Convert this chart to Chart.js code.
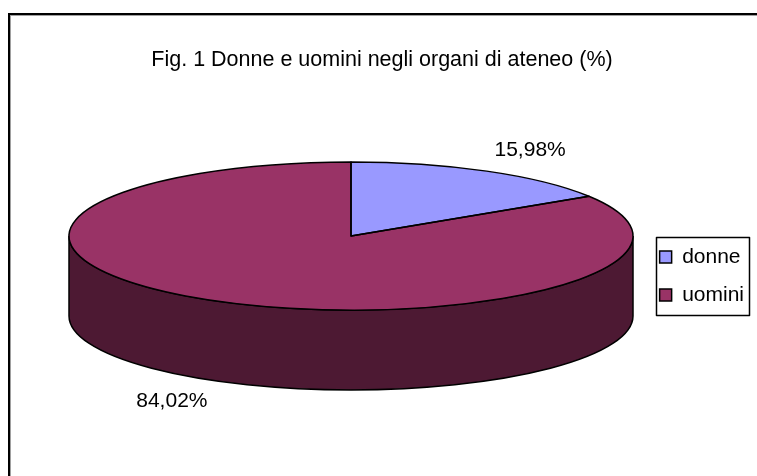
<!DOCTYPE html>
<html>
<head>
<meta charset="utf-8">
<title>Donne e uomini negli organi di ateneo</title>
<script src="https://cdn.jsdelivr.net/npm/chart.js@4/dist/chart.umd.min.js"></script>
<style>
  html, body { margin: 0; padding: 0; background: #fff; overflow: hidden; }
  #frame {
    position: absolute; left: 8px; top: 13px; width: 800px; height: 520px;
    border-left: 2px solid #000; border-top: 2px solid #000;
    box-shadow: inset 1px 1px 0 #a0a0a0;
  }
  #myCanvas { position: absolute; left: 0; top: 0; }
</style>
</head>
<body>
<div id="frame"></div>
<canvas id="myCanvas" width="757" height="476"></canvas>
<script>
const categories = ['donne', 'uomini']
const percentages = [15.98, 84.02]
const sliceColors = ['#9999ff', '#993366']
const sideColors = ['#4c4c80', '#4d1933']
const titleText = 'Fig. 1 Donne e uomini negli organi di ateneo (%)'

const fontFamily = '"Liberation Sans", Arial, sans-serif'

// how the flat pie gets laid down as a tilted disc
const pie3d = { cx: 351, cy: 236, rx: 282, ry: 74, depth: 80, labelDist: 1.32 }

// map the library's circle onto the ellipse
function project(ctx, arc) {
    ctx.translate(pie3d.cx, pie3d.cy)
    ctx.scale(pie3d.rx / arc.outerRadius, pie3d.ry / arc.outerRadius)
    ctx.translate(-arc.x, -arc.y)
}

// band between top edge and bottom edge of the disc, from a1 to a2
function rimPath(ctx, arc, a1, a2) {
    ctx.beginPath()
    ctx.save()
    ctx.translate(0, pie3d.depth)
    project(ctx, arc)
    ctx.arc(arc.x, arc.y, arc.outerRadius, a1, a2)
    ctx.restore()
    ctx.save()
    project(ctx, arc)
    ctx.arc(arc.x, arc.y, arc.outerRadius, a2, a1, true)
    ctx.restore()
    ctx.closePath()
}

const pie3dPlugin = {
    id: 'pie3d',
    beforeDatasetsDraw(chart) {
        const ctx = chart.ctx
        const arcs = chart.getDatasetMeta(0).data

        // only the front half of the side is visible
        arcs.forEach((arc, i) => {
            const a1 = Math.max(arc.startAngle, 0)
            const a2 = Math.min(arc.endAngle, Math.PI)
            if (a2 <= a1) return
            rimPath(ctx, arc, a1, a2)
            ctx.fillStyle = sideColors[i]
            ctx.fill()
            ctx.lineWidth = 1.5
            ctx.strokeStyle = '#000'
            ctx.stroke()
        })

        ctx.save()
        project(ctx, arcs[0])
    },
    afterDatasetsDraw(chart) {
        const ctx = chart.ctx
        ctx.restore()
        const arcs = chart.getDatasetMeta(0).data

        // outlines, stroked without the squash so lines stay even
        ctx.lineWidth = 1.5
        ctx.strokeStyle = '#000'
        ctx.lineJoin = 'round'
        arcs.forEach(arc => {
            ctx.beginPath()
            ctx.save()
            project(ctx, arc)
            ctx.moveTo(arc.x, arc.y)
            ctx.arc(arc.x, arc.y, arc.outerRadius, arc.startAngle, arc.endAngle)
            ctx.closePath()
            ctx.restore()
            ctx.stroke()
        })

        // percentage labels
        ctx.font = '21px ' + fontFamily
        ctx.fillStyle = '#000'
        ctx.textAlign = 'center'
        ctx.textBaseline = 'middle'
        arcs.forEach((arc, i) => {
            const mid = (arc.startAngle + arc.endAngle) / 2
            const x = pie3d.cx + pie3d.labelDist * pie3d.rx * Math.cos(mid)
            let y = pie3d.cy + pie3d.labelDist * pie3d.ry * Math.sin(mid)
            if (Math.sin(mid) > 0) y += pie3d.depth
            ctx.fillText(percentages[i].toFixed(2).replace('.', ',') + '%', x, y)
        })
    },
    afterDraw(chart) {
        // box round the legend
        const ctx = chart.ctx
        const boxes = chart.legend.legendHitBoxes
        if (!boxes || !boxes.length) return
        const left = Math.min(...boxes.map(b => b.left)) - 4
        const top = Math.min(...boxes.map(b => b.top)) - 10
        const right = Math.max(...boxes.map(b => b.left + b.width)) + 5
        const bottom = Math.max(...boxes.map(b => b.top + b.height)) + 9
        ctx.save()
        ctx.lineWidth = 1.5
        ctx.strokeStyle = '#000'
        ctx.strokeRect(Math.round(left) + 0.5, Math.round(top) + 0.5, Math.round(right - left), Math.round(bottom - top))
        ctx.restore()
    }
}

const myChart = document.getElementById('myCanvas').getContext('2d')
const defaultLabels = Chart.overrides.doughnut.plugins.legend.labels.generateLabels

let genderChart = new Chart(myChart, {
    type: 'pie',
    data: {
        labels: categories,
        datasets: [{
            data: percentages,
            backgroundColor: sliceColors,
            borderWidth: 0
        }]
    },
    options: {
        responsive: false,
        animation: false,
        events: [],
        layout: {
            // negative bottom pushes the legend down to where the reference has it
            padding: { top: 0, right: 3, bottom: -76, left: 10 }
        },
        plugins: {
            title: {
                display: true,
                text: titleText,
                color: '#000',
                font: { family: fontFamily, size: 21.5, weight: 'normal' },
                padding: { top: 47, bottom: 10 }
            },
            legend: {
                position: 'right',
                align: 'center',
                labels: {
                    color: '#000',
                    font: { family: fontFamily, size: 21 },
                    boxWidth: 12,
                    boxHeight: 12,
                    padding: 17,
                    generateLabels: chart => defaultLabels(chart).map(l => ({ ...l, lineWidth: 1.5, strokeStyle: '#000' }))
                }
            },
            tooltip: { enabled: false }
        }
    },
    plugins: [pie3dPlugin]
})
</script>
</body>
</html>
